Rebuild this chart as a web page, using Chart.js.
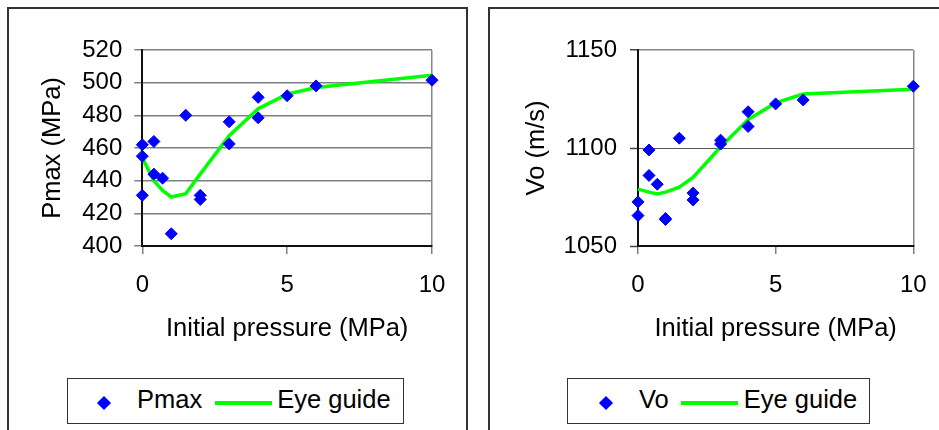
<!DOCTYPE html>
<html><head><meta charset="utf-8">
<script src="https://cdn.jsdelivr.net/npm/chart.js@4.4.0/dist/chart.umd.min.js"></script>
<style>
html,body{margin:0;padding:0;background:#fff;width:939px;height:430px;overflow:hidden;font-family:"Liberation Sans",Arial,sans-serif;}
.frame{position:absolute;box-sizing:border-box;border:2px solid #333;}
.cv{position:absolute;top:0;}
.legend{position:absolute;box-sizing:border-box;border:1px solid #333;display:flex;align-items:center;font-size:25.5px;color:#000;white-space:nowrap;background:#fff}
.mk-pt{display:inline-block;width:10px;height:10px;transform:rotate(45deg);position:relative;top:1.5px;flex:none}
.mk-ln{display:inline-block;width:57px;height:4px;position:relative;top:1.5px;flex:none}
.lbl{position:relative;top:-1.5px}
</style></head><body>
<div class="frame" style="left:7px;top:7px;width:461px;height:440px"></div>
<div class="frame" style="left:488px;top:7px;width:470px;height:440px"></div>
<canvas id="c1" class="cv" style="left:0px;width:470px;height:370px" width="470" height="370"></canvas>
<canvas id="c2" class="cv" style="left:470px;width:469px;height:370px" width="469" height="370"></canvas>
<div id="lg1" class="legend" style="left:67px;top:378px;width:337px;height:46px;padding-left:31px"></div>
<div id="lg2" class="legend" style="left:567px;top:378px;width:303px;height:46px;padding-left:33px"></div>
<script>
// ---- data ----
const xTickValues = [0, 5, 10];
const pmaxTicks = [400, 420, 440, 460, 480, 500, 520];
const voTicks = [1050, 1100, 1150];

const pmaxX = [0, 0, 0, 0.4, 0.4, 0.7, 1, 1.5, 2, 2, 3, 3, 4, 4, 5, 6, 10];
const pmaxY = [462, 455, 431, 464, 444, 441.5, 407.5, 480, 431, 428.5, 476, 462.5, 491, 478.5, 492, 498, 501.5];
const pmaxGuideX = [0, 0.4, 0.7, 1, 1.5, 2, 3, 4, 5, 6, 10];
const pmaxGuideY = [454, 440, 434, 430, 432, 444, 467.5, 484, 493, 497, 504.5];

const voX = [0, 0, 0.4, 0.4, 0.7, 1, 1, 1.5, 2, 2, 3, 3, 4, 4, 5, 6, 10];
const voY = [1072.5, 1065.5, 1099, 1086, 1081.5, 1064, 1063.5, 1105, 1077, 1073.5, 1104, 1102, 1118.5, 1111, 1122.5, 1124.5, 1131.5];
const voGuideX = [0, 0.4, 0.7, 1, 1.5, 2, 3, 4, 5, 6, 10];
const voGuideY = [1079, 1077.5, 1076.5, 1077.5, 1080, 1085, 1100.5, 1114.5, 1123, 1127.5, 1130];

const xTitle = 'Initial pressure (MPa)';
const guideLabel = 'Eye guide';

// ---- chart ----
Chart.defaults.font.family = '"Liberation Sans", Arial, sans-serif';
Chart.defaults.color = '#000';
const FONT_FAMILY = '"Liberation Sans", Arial, sans-serif';

function pts(xs, ys) { return xs.map((x, i) => ({ x: x, y: ys[i] })); }

function makeChart(id, o) {
  return new Chart(document.getElementById(id), {
    type: 'scatter',
    data: {
      datasets: [
        {
          label: o.label,
          data: pts(o.x, o.y),
          showLine: false,
          pointStyle: 'rectRot',
          pointRadius: 6,
          pointHoverRadius: 6,
          pointBorderWidth: 1,
          backgroundColor: '#0000ff',
          borderColor: '#0000ff',
          clip: false
        },
        {
          label: guideLabel,
          data: pts(o.gx, o.gy),
          showLine: true,
          borderColor: '#00ff00',
          backgroundColor: '#00ff00',
          borderWidth: 3.5,
          pointRadius: 0,
          tension: 0,
          clip: false
        }
      ]
    },
    options: {
      responsive: false,
      animation: false,
      events: [],
      layout: { padding: { left: o.padLeft, right: o.padRight, top: 50, bottom: 26 } },
      plugins: { legend: { display: false }, tooltip: { enabled: false } },
      scales: {
        x: {
          type: 'linear', min: 0, max: 10,
          afterBuildTicks: s => { s.ticks = xTickValues.map(v => ({ value: v })); },
          afterFit: s => { s.height = 98; s.paddingLeft = 0; s.paddingRight = 0; },
          ticks: { font: { size: 24, family: FONT_FAMILY }, color: '#000', padding: 17, maxRotation: 0, callback: v => String(v) },
          grid: {
            drawOnChartArea: true,
            color: c => (c.tick && c.tick.value === 10) ? '#888888' : 'rgba(0,0,0,0)',
            lineWidth: 1.5,
            tickColor: '#808080',
            tickLength: 8,
            tickWidth: 1.5
          },
          border: { display: true, color: '#111', width: 2 },
          title: { display: true, text: xTitle, font: { size: 25.5, family: FONT_FAMILY }, color: '#000', padding: { top: 0, bottom: 0 } }
        },
        y: {
          type: 'linear', min: o.yMin, max: o.yMax,
          afterBuildTicks: s => { s.ticks = o.yTicks.map(v => ({ value: v })); },
          afterFit: s => { s.width = o.yWidth; s.paddingTop = 0; s.paddingBottom = 0; },
          ticks: { font: { size: 24, family: FONT_FAMILY }, color: '#000', padding: o.tickPad, callback: v => String(v) },
          grid: {
            color: o.gridColor,
            lineWidth: o.gridWidth,
            tickColor: o.tickColor,
            tickLength: 8,
            tickWidth: 1.5
          },
          border: { display: true, color: '#111', width: 2 },
          title: { display: true, text: o.yTitle, font: { size: 25.5, family: FONT_FAMILY }, color: '#000', padding: { top: 0, bottom: 0 } }
        }
      }
    }
  });
}

const chart1 = makeChart('c1', {
  label: 'Pmax', x: pmaxX, y: pmaxY, gx: pmaxGuideX, gy: pmaxGuideY,
  yMin: 400, yMax: 520, yTicks: pmaxTicks, yTitle: 'Pmax (MPa)',
  padLeft: 37.7, padRight: 38, yWidth: 104.6, tickPad: 12,
  gridColor: '#808080', gridWidth: 1.5, tickColor: '#808080'
});

const chart2 = makeChart('c2', {
  label: 'Vo', x: voX, y: voY, gx: voGuideX, gy: voGuideY,
  yMin: 1050, yMax: 1150, yTicks: voTicks, yTitle: 'Vo (m/s)',
  padLeft: 51.2, padRight: 25.7, yWidth: 116.8, tickPad: 13,
  gridColor: c => (c.tick && c.tick.value === 1150) ? '#888888' : '#555555',
  gridWidth: c => (c.tick && c.tick.value === 1150) ? 1.5 : 1,
  tickColor: '#444444'
});

// ---- HTML legends built from the chart datasets ----
function buildLegend(chart, el) {
  chart.data.datasets.forEach((ds, i) => {
    const mk = document.createElement('span');
    const isLine = ds.showLine;
    mk.className = isLine ? 'mk-ln' : 'mk-pt';
    mk.style.background = isLine ? ds.borderColor : ds.backgroundColor;
    if (i > 0) mk.style.marginLeft = (isLine ? 12.5 : 20) + 'px';
    const tx = document.createElement('span');
    tx.className = 'lbl';
    tx.textContent = ds.label;
    tx.style.marginLeft = (isLine ? 5.5 : 28) + 'px';
    el.appendChild(mk);
    el.appendChild(tx);
  });
}
buildLegend(chart1, document.getElementById('lg1'));
buildLegend(chart2, document.getElementById('lg2'));
</script>
</body></html>
